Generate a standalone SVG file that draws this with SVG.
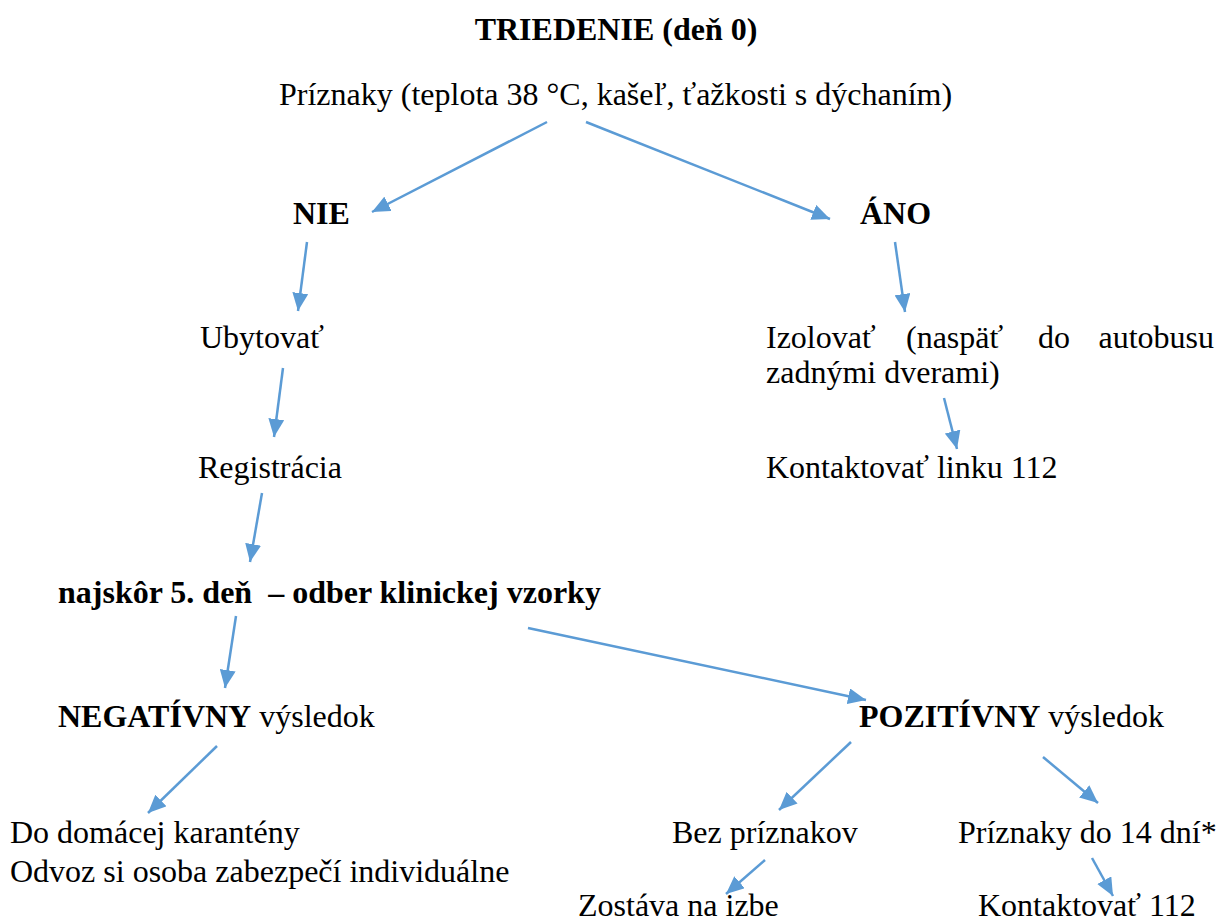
<svg xmlns="http://www.w3.org/2000/svg" width="1221" height="922" viewBox="0 0 1221 922" font-family="'Liberation Serif', 'DejaVu Serif', serif">
<style>
text{font-family:'Liberation Serif','Times New Roman','DejaVu Serif',serif;font-size:32px;fill:#000}
.b{font-weight:bold}
.c line{stroke:#5B9BD5;stroke-width:2.5;marker-end:url(#ah)}
</style>
<defs>
<marker id="ah" markerUnits="userSpaceOnUse" markerWidth="20" markerHeight="16" refX="18" refY="8" orient="auto">
<path d="M0,0 L18,8 L0,16 Z" fill="#5B9BD5"/>
</marker>
</defs>
<rect width="1221" height="922" fill="#fff"/>
<g id="n-title"><text class="b" x="616" y="40" text-anchor="middle">TRIEDENIE (deň 0)</text></g>
<g id="n-symptoms"><text x="279" y="105">Príznaky (teplota 38 °C, kašeľ, ťažkosti s dýchaním)</text></g>
<g id="n-nie"><text class="b" x="293" y="224">NIE</text></g>
<g id="n-ano"><text class="b" x="860" y="224">ÁNO</text></g>
<g id="n-ubytovat"><text x="200" y="348">Ubytovať</text></g>
<g id="n-izolovat"><text x="766" y="348">Izolovať</text><text x="906" y="348">(naspäť</text><text x="1038" y="348">do</text><text x="1214" y="348" text-anchor="end">autobusu</text><text x="766" y="383">zadnými dverami)</text></g>
<g id="n-registracia"><text x="198" y="478">Registrácia</text></g>
<g id="n-kontakt1"><text x="766" y="478">Kontaktovať linku 112</text></g>
<g id="n-odber"><text class="b" x="58" y="603" xml:space="preserve">najskôr 5. deň  – odber klinickej vzorky</text></g>
<g id="n-neg"><text x="58" y="727"><tspan class="b">NEGATÍVNY</tspan> výsledok</text></g>
<g id="n-poz"><text x="859" y="727"><tspan class="b">POZITÍVNY</tspan> výsledok</text></g>
<g id="n-domov"><text x="10" y="843">Do domácej karantény</text><text x="10" y="882">Odvoz si osoba zabezpečí individuálne</text></g>
<g id="n-bez"><text x="672" y="843">Bez príznakov</text></g>
<g id="n-priz14"><text x="958" y="843">Príznaky do 14 dní*</text></g>
<g id="n-zostava"><text x="578" y="916">Zostáva na izbe</text></g>
<g id="n-kontakt2"><text x="978" y="916">Kontaktovať 112</text></g>
<g id="connectors" class="c">
<line x1="547" y1="122" x2="372" y2="212"/>
<line x1="586" y1="122" x2="830" y2="219"/>
<line x1="307" y1="242" x2="298" y2="311"/>
<line x1="895" y1="242" x2="905" y2="312"/>
<line x1="283" y1="368" x2="274" y2="437"/>
<line x1="944" y1="398" x2="957" y2="449"/>
<line x1="262" y1="493" x2="250" y2="562"/>
<line x1="236" y1="616" x2="225" y2="688"/>
<line x1="528" y1="628" x2="866" y2="700"/>
<line x1="217" y1="746" x2="148" y2="813"/>
<line x1="851" y1="742" x2="779" y2="810"/>
<line x1="1043" y1="757" x2="1098" y2="803"/>
<line x1="765" y1="860" x2="726" y2="894"/>
<line x1="1092" y1="858" x2="1113" y2="896"/>
</g>
</svg>
